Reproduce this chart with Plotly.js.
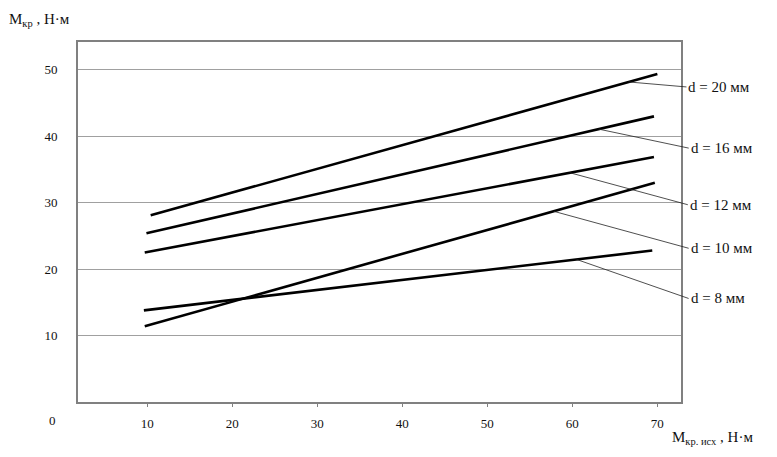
<!DOCTYPE html>
<html>
<head>
<meta charset="utf-8">
<script src="https://cdn.plot.ly/plotly-3.0.1.min.js"></script>
<style>html,body{margin:0;padding:0;background:#fff;}#chart{width:777px;height:457px;}</style>
</head>
<body>
<div id="chart"></div>
<script>
// ---- data ----
const seriesLabels = ['d = 20 мм', 'd = 16 мм', 'd = 12 мм', 'd = 10 мм', 'd = 8 мм'];
const xStart = [10.4, 9.9, 9.7, 9.7, 9.6];
const xEnd   = [70.0, 69.6, 69.6, 69.7, 69.4];
const yStart = [28.1, 25.4, 22.5, 11.4, 13.8];
const yEnd   = [49.4, 43.0, 36.9, 33.0, 22.8];
const leaderX = [66.6, 63.1, 59.7, 57.8, 60.5];   // where each label's leader touches its line
const xTicks = [10, 20, 30, 40, 50, 60, 70];
const yTicks = [10, 20, 30, 40, 50];

const serif = 'Liberation Serif, Times New Roman, serif';
const traces = seriesLabels.map((name, i) => ({
  type: 'scatter', mode: 'lines', name: name,
  x: [xStart[i], xEnd[i]], y: [yStart[i], yEnd[i]],
  line: {color: '#000', width: 2.6}, showlegend: false, hoverinfo: 'skip'
}));

const offsets = [[58, 5], [90, 19], [118, 32], [135, 37], [112, 39]];
const annotations = seriesLabels.map((name, i) => {
  const t = (leaderX[i] - xStart[i]) / (xEnd[i] - xStart[i]);
  const yy = yStart[i] + t * (yEnd[i] - yStart[i]);
  return {
    x: leaderX[i], y: yy, xref: 'x', yref: 'y',
    text: name, showarrow: true, arrowhead: 0, arrowwidth: 0.8, arrowcolor: '#222',
    ax: offsets[i][0], ay: offsets[i][1], xanchor: 'left', standoff: 0,
    font: {family: serif, size: 15, color: '#111'}
  };
});
annotations.push({
  xref: 'paper', yref: 'paper', x: -0.118, y: 1.06, xanchor: 'left', yanchor: 'middle',
  text: 'М<sub>кр</sub> , Н·м', showarrow: false, font: {family: serif, size: 15, color: '#111'}
});
annotations.push({
  xref: 'paper', yref: 'paper', x: 0.982, y: -0.1, xanchor: 'left', yanchor: 'middle',
  text: 'М<sub>кр. исх</sub> , Н·м', showarrow: false, font: {family: serif, size: 15, color: '#111'}
});
annotations.push({
  xref: 'paper', yref: 'paper', x: -0.043, y: -0.05, xanchor: 'center', yanchor: 'middle',
  text: '0', showarrow: false, font: {family: serif, size: 13, color: '#111'}
});

const layout = {
  width: 777, height: 457,
  margin: {l: 78, r: 96, t: 42, b: 55},
  paper_bgcolor: '#fff', plot_bgcolor: '#fff',
  showlegend: false,
  font: {family: serif, size: 13, color: '#111'},
  xaxis: {
    range: [1.85, 72.78], tickvals: xTicks, ticktext: xTicks.map(String),
    showgrid: false, zeroline: false,
    showline: true, linecolor: '#808080', linewidth: 2, mirror: true,
    ticks: 'outside', ticklen: 3, tickcolor: '#808080', tickwidth: 1,
    ticklabelstandoff: 5,
    tickfont: {family: serif, size: 13, color: '#111'}
  },
  yaxis: {
    range: [0, 54.2], tickvals: yTicks, ticktext: yTicks.map(String),
    showgrid: true, gridcolor: '#a0a0a0', gridwidth: 1, zeroline: false,
    showline: true, linecolor: '#808080', linewidth: 2, mirror: true,
    ticks: '', ticklabelstandoff: 16,
    tickfont: {family: serif, size: 13, color: '#111'}
  },
  annotations: annotations
};

Plotly.newPlot('chart', traces, layout, {staticPlot: true, displayModeBar: false});
</script>
</body>
</html>
